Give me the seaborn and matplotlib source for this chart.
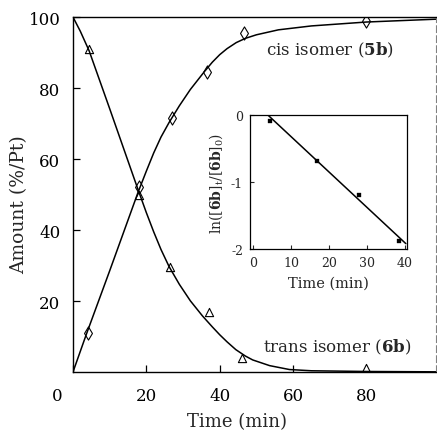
import matplotlib
matplotlib.use("Agg")
import matplotlib.pyplot as plt
import matplotlib.transforms as mtransforms
import seaborn as sns

# ---- data ----
cis_t = [4, 18, 27, 36.5, 46.5, 80]
cis_v = [11, 52, 71.5, 84.5, 95.5, 99]
trans_t = [4.3, 18, 26.5, 37, 46, 80]
trans_v = [91, 50, 29.5, 16.8, 4, 1.2]

cis_curve_t = [0, 3.6, 10, 17.8, 20, 22, 24, 26.2, 29, 32, 35.8, 38, 40, 42, 44.5, 47, 50, 56, 65, 80, 99]
cis_curve_v = [0, 10.5, 28.5, 50.8, 56.6, 61.7, 66.2, 70.3, 75, 79.6, 84.6, 87.3, 89.4, 91.1, 92.8, 94, 95, 96.4, 97.5, 98.6, 99.4]
trans_curve_t = [0, 2, 4.4, 10, 14, 17.8, 20, 22, 24, 26.2, 29, 32, 35.3, 38, 40, 42, 44.4, 47, 49, 53.6, 59, 65, 80, 99]
trans_curve_v = [100, 96, 90.5, 74.2, 62.4, 51.2, 44.9, 39.5, 34.5, 29.7, 24.7, 20.05, 15.8, 12.7, 10.5, 8.5, 6.3, 4.5, 3.4, 1.8, 0.7, 0.35, 0.15, 0.05]

inset_t = [4.4, 16.7, 27.9, 38.4]
inset_v = [-0.09, -0.69, -1.19, -1.88]
fit_t = [3.9, 40.2]
fit_v = [0.0, -1.92]

main_xticks = [0, 20, 40, 60, 80]
main_yticks = [20, 40, 60, 80, 100]
inset_xticks = [0, 10, 20, 30, 40]
inset_yticks = [0, -1, -2]
inset_yticklabels = ["0", "-1", "-2"]

# ---- style ----
sns.set_style("ticks")
plt.rcParams["font.family"] = ["DejaVu Serif"]
plt.rcParams["mathtext.fontset"] = "dejavuserif"
plt.rcParams["axes.unicode_minus"] = False

fig = plt.figure(figsize=(4.37, 4.35), dpi=100)
ax = fig.add_axes([0.167, 0.1425, 0.831, 0.816])

sns.lineplot(x=cis_curve_t, y=cis_curve_v, sort=False, color="black", lw=1.1, ax=ax)
sns.lineplot(x=trans_curve_t, y=trans_curve_v, sort=False, color="black", lw=1.1, ax=ax)
sns.scatterplot(x=cis_t, y=cis_v, marker="d", s=45, ax=ax)
c1 = ax.collections[-1]
c1.set_facecolor("white"); c1.set_edgecolor("black"); c1.set_linewidth(0.8)
sns.scatterplot(x=trans_t, y=trans_v, marker="^", s=35, ax=ax)
c2 = ax.collections[-1]
c2.set_facecolor("white"); c2.set_edgecolor("black"); c2.set_linewidth(0.8)

ax.set_xlim(0, 99)
ax.set_ylim(0, 100)
ax.set_xticks(main_xticks)
ax.set_yticks(main_yticks)
ax.tick_params(direction="in", length=5, width=0.9, labelsize=12, colors="black")
ax.tick_params(axis="x", pad=11)
ax.tick_params(axis="y", pad=9)
ax.set_xlabel("Time (min)", fontsize=13)
ax.set_ylabel("Amount (%/Pt)", fontsize=13.5)
ax.xaxis.set_label_coords(0.452, -0.138)
ax.xaxis.label.set_va("center")
ax.yaxis.set_label_coords(-0.124, 0.473)
for side in ["left", "bottom", "top"]:
    ax.spines[side].set_linewidth(1.0)
    ax.spines[side].set_color("black")
ax.spines["right"].set_visible(True)
ax.spines["right"].set_linestyle((0, (6, 3)))
ax.spines["right"].set_color("0.5")
ax.spines["right"].set_linewidth(0.8)
ax.spines["top"].set_visible(True)

# shift the "0" x tick label left like the reference
fig.canvas.draw()
lbl0 = ax.get_xticklabels()[0]
lbl0.set_transform(lbl0.get_transform() + mtransforms.ScaledTranslation(-16 / 100, 0, fig.dpi_scale_trans))

ax.text(70, 91, r"cis isomer ($\mathbf{5b}$)", fontsize=12, ha="center", va="center")
ax.text(72, 7.3, r"trans isomer ($\mathbf{6b}$)", fontsize=12, ha="center", va="center")

# ---- inset ----
ins = fig.add_axes([250 / 437, 1 - 250 / 435, 157 / 437, 134 / 435])
sns.lineplot(x=fit_t, y=fit_v, color="black", lw=1.1, ax=ins)
sns.scatterplot(x=inset_t, y=inset_v, marker="s", s=9, color="black", edgecolor="black", ax=ins)
ins.set_xlim(-0.8, 40.5)
ins.set_ylim(-2, 0)
ins.set_xticks(inset_xticks)
ins.set_yticks(inset_yticks)
ins.set_yticklabels(inset_yticklabels)
ins.tick_params(direction="in", length=3, width=0.8, labelsize=9, pad=5)
ins.set_xlabel("Time (min)", fontsize=10.5, labelpad=5)
ins.set_ylabel(r"ln([$\mathbf{6b}$]$_{\rm t}$/[$\mathbf{6b}$]$_{0}$)", fontsize=10, labelpad=4)
for side in ins.spines.values():
    side.set_visible(True)
    side.set_linewidth(0.9)
    side.set_color("black")

fig.savefig("out.png", dpi=100)
